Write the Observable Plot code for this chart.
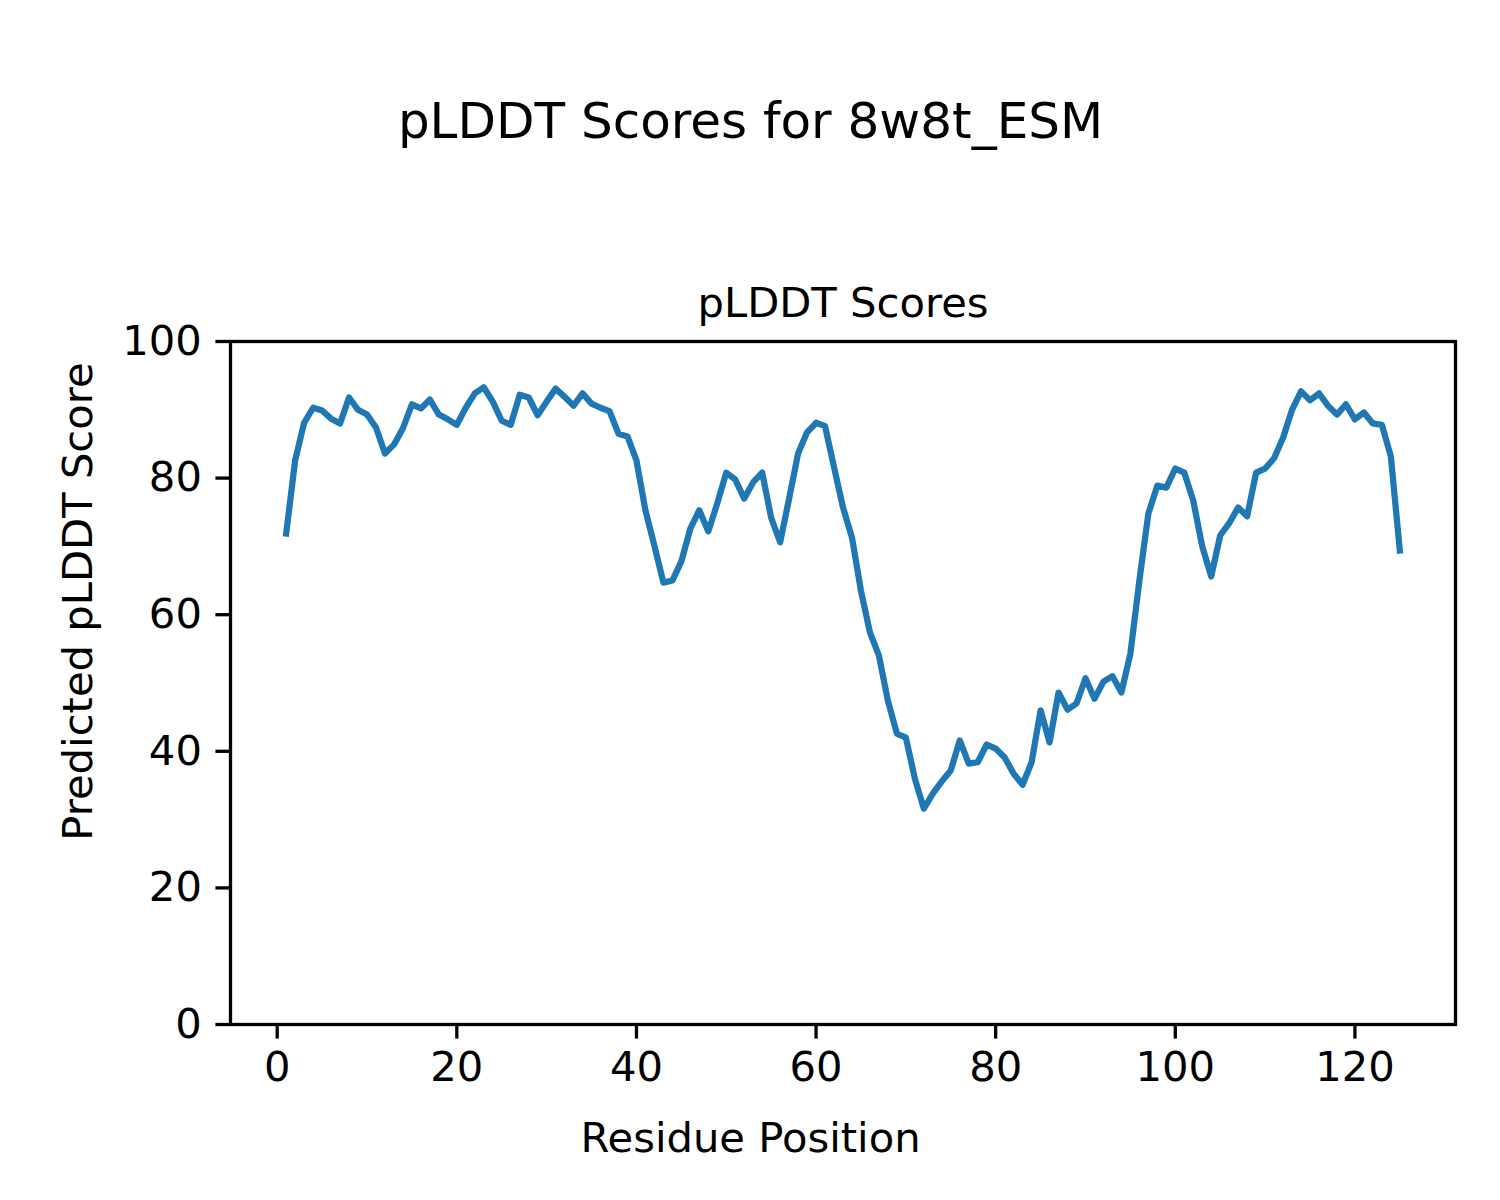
<!DOCTYPE html>
<html>
<head>
<meta charset="utf-8">
<script src="https://cdn.jsdelivr.net/npm/d3@7"></script>
<script src="https://cdn.jsdelivr.net/npm/@observablehq/plot@0.6"></script>
<style>
  html, body { margin: 0; padding: 0; background: #fff; }
  #chart { width: 1500px; height: 1200px; }
</style>
</head>
<body>
<div id="chart"></div>
<script>
const figureTitle = "pLDDT Scores for 8w8t_ESM";
const axesTitle = "pLDDT Scores";
const xLabel = "Residue Position";
const yLabel = "Predicted pLDDT Score";
const xTicks = [0, 20, 40, 60, 80, 100, 120];
const yTicks = [0, 20, 40, 60, 80, 100];

const residues = Array.from({length: 125}, (_, i) => i + 1);
const plddt = [
  71.9, 82.6, 88.1, 90.3, 89.9, 88.7, 88.0, 91.8, 90.0, 89.3,
  87.4, 83.6, 84.9, 87.3, 90.8, 90.2, 91.5, 89.3, 88.6, 87.8,
  90.3, 92.4, 93.3, 91.2, 88.4, 87.8, 92.2, 91.8, 89.2, 91.2,
  93.1, 91.9, 90.6, 92.4, 90.9, 90.3, 89.8, 86.5, 86.1, 82.6,
  75.3, 70.1, 64.7, 65.0, 67.8, 72.6, 75.3, 72.2, 76.3, 80.8,
  79.8, 77.0, 79.4, 80.8, 74.2, 70.6, 77.0, 83.6, 86.7, 88.1,
  87.6, 81.6, 75.7, 71.3, 63.5, 57.4, 54.0, 47.4, 42.6, 42.0,
  36.0, 31.6, 33.8, 35.6, 37.2, 41.6, 38.2, 38.4, 41.0, 40.4,
  39.1, 36.7, 35.1, 38.4, 46.0, 41.3, 48.6, 46.1, 47.0, 50.7,
  47.7, 50.2, 51.0, 48.6, 54.3, 65.0, 74.8, 78.9, 78.6, 81.4,
  80.8, 76.7, 70.0, 65.6, 71.6, 73.4, 75.7, 74.4, 80.8, 81.4,
  82.9, 85.9, 90.0, 92.7, 91.4, 92.4, 90.6, 89.3, 90.8, 88.6,
  89.6, 88.0, 87.8, 83.2, 69.4
];

const data = residues.map((r, i) => ({residue: r, score: plddt[i]}));

const W = 1500, H = 1200;
const mL = 230, mR = 45, mT = 341, mB = 176;
const fs = 41.7;

const chart = Plot.plot({
  width: W,
  height: H,
  marginLeft: mL,
  marginRight: mR,
  marginTop: mT,
  marginBottom: mB,
  style: {fontFamily: "'DejaVu Sans', sans-serif", fontSize: fs + "px", color: "black", background: "white"},
  x: {domain: [-5.2, 131.2]},
  y: {domain: [0, 100]},
  marks: [
    Plot.line(data, {x: "residue", y: "score", stroke: "#1f77b4", strokeWidth: 6.25, strokeLinejoin: "round", strokeLinecap: "square"}),
    Plot.frame({stroke: "black", strokeWidth: 3.3}),
    Plot.axisX({ticks: xTicks, tickSize: 14.6, tickPadding: 12, strokeWidth: 3.3, fontSize: fs, label: null, tickFormat: d => String(d)}),
    Plot.axisY({ticks: yTicks, tickSize: 14.6, tickPadding: 14, strokeWidth: 3.3, fontSize: fs, label: null, tickFormat: d => String(d)}),
    Plot.text([figureTitle], {text: d => d, frameAnchor: "top-left", dx: 750 - mL, dy: 137 - mT, textAnchor: "middle", lineAnchor: "bottom", fontSize: 50, fill: "black"}),
    Plot.text([axesTitle], {text: d => d, frameAnchor: "top", dy: -25, textAnchor: "middle", lineAnchor: "bottom", fontSize: fs, fill: "black"}),
    Plot.text([xLabel], {text: d => d, frameAnchor: "bottom-left", dx: 750 - mL, dy: 1151 - (H - mB), textAnchor: "middle", lineAnchor: "bottom", fontSize: fs, fill: "black"}),
    Plot.text([yLabel], {text: d => d, frameAnchor: "left", dx: 78 - mL, dy: 601 - (mT + (H - mT - mB) / 2), rotate: -90, textAnchor: "middle", lineAnchor: "middle", fontSize: fs, fill: "black"})
  ]
});
document.getElementById("chart").appendChild(chart);
</script>
</body>
</html>
